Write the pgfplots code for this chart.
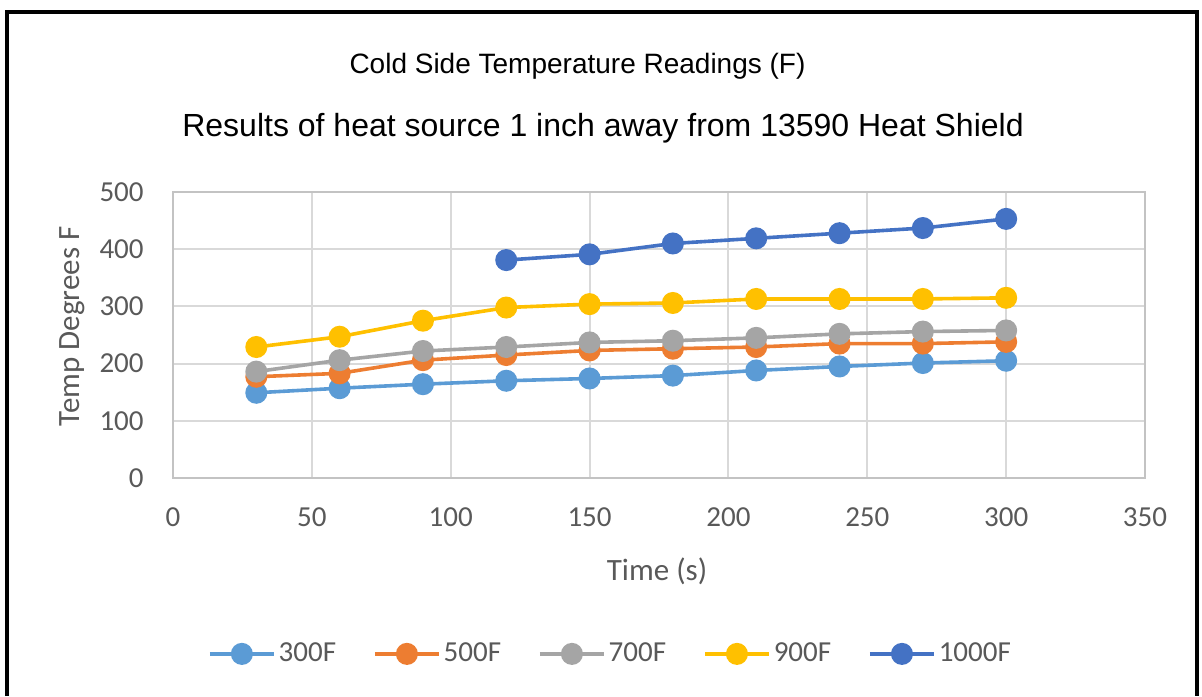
\documentclass[border=0pt]{standalone}
\usepackage{pgfplots}
\pgfplotsset{compat=1.18}
\usepackage{fontspec}
\setmainfont{Carlito}
\newfontfamily\arialfont{Liberation Sans}

\definecolor{s300}{HTML}{5B9BD5}
\definecolor{s500}{HTML}{ED7D31}
\definecolor{s700}{HTML}{A5A5A5}
\definecolor{s900}{HTML}{FFC000}
\definecolor{s1000}{HTML}{4472C4}
\definecolor{gridc}{HTML}{D9D9D9}
\definecolor{txt}{HTML}{595959}

\begin{document}
\begin{tikzpicture}
% page = 1202 x 696 px at 0.5pt per px
\path[use as bounding box] (0,0) rectangle (601pt,348pt);
% chart frame
\draw[line width=2pt] (3.5pt,0) -- (3.5pt,341.75pt) -- (598.5pt,341.75pt) -- (598.5pt,0);

\node[font=\arialfont\fontsize{14}{16}\selectfont] at (288.75pt,315pt) {Cold Side Temperature Readings (F)};
\node[font=\arialfont\fontsize{16}{18}\selectfont] at (301.5pt,284pt) {Results of heat source 1 inch away from 13590 Heat Shield};

\begin{axis}[
    at={(86.5pt,109pt)}, anchor=south west,
    width=486pt, height=143pt, scale only axis,
    xmin=0, xmax=350, ymin=0, ymax=500,
    xtick distance=50, ytick distance=100,
    grid=major,
    major grid style={gridc, line width=1pt},
    axis line style={draw=gridc!90!black, line width=1pt},
    major tick length=0pt,
    tick label style={font=\fontsize{14.5}{16}\selectfont, text=txt},
    /pgf/number format/assume math mode=true,
    yticklabel style={anchor=east, inner sep=0pt, xshift=-14.5pt},
    xticklabel style={anchor=north, inner sep=0pt, yshift=-14.5pt},
    xlabel={Time (s)},
    ylabel={Temp Degrees F},
    label style={font=\fontsize{15.5}{17}\selectfont, text=txt},
    xlabel style={at={(axis description cs:0.498,-0.325)}, anchor=center},
    ylabel style={at={(axis description cs:-0.104,0.53)}, anchor=center, rotate=0},
    legend columns=5,
    legend style={at={(axis description cs:0.4506,-0.615)}, anchor=center, draw=none,
        font=\fontsize{14.5}{16}\selectfont, text=txt,
        /tikz/every even column/.append style={column sep=17pt},
        nodes={inner sep=1.5pt}},
    legend image code/.code={\draw[mark repeat=2,mark phase=2] plot coordinates {(0pt,0pt)(16pt,0pt)(32pt,0pt)};},
    every axis plot/.append style={line width=1.8pt, mark=*, mark size=4.6pt, mark options={solid}},
    clip=false,
]
\addplot[color=s300, mark options={fill=s300, draw=s300}] coordinates {
    (30,149) (60,157) (90,164) (120,170) (150,174)
    (180,179) (210,188) (240,195) (270,201) (300,205)
};
\addlegendentry{300F}
\addplot[color=s500, mark options={fill=s500, draw=s500}] coordinates {
    (30,177) (60,183) (90,206) (120,215) (150,223)
    (180,226) (210,229) (240,235) (270,235) (300,238)
};
\addlegendentry{500F}
\addplot[color=s700, mark options={fill=s700, draw=s700}] coordinates {
    (30,186) (60,206) (90,222) (120,229) (150,237)
    (180,240) (210,245) (240,252) (270,256) (300,258)
};
\addlegendentry{700F}
\addplot[color=s900, mark options={fill=s900, draw=s900}] coordinates {
    (30,229) (60,247) (90,275) (120,298) (150,304)
    (180,306) (210,313) (240,313) (270,313) (300,315)
};
\addlegendentry{900F}
\addplot[color=s1000, mark options={fill=s1000, draw=s1000}] coordinates {
    (120,381) (150,391) (180,410) (210,419) (240,428) (270,437) (300,453)
};
\addlegendentry{1000F}
\end{axis}
\end{tikzpicture}
\end{document}
